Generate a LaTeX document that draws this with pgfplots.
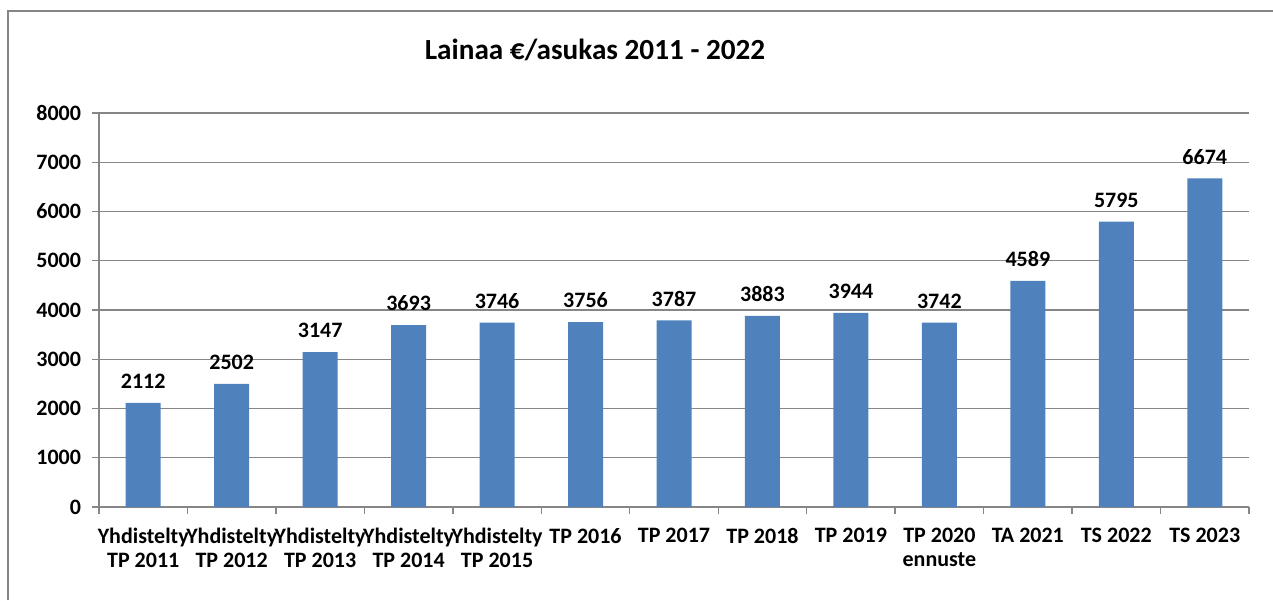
\documentclass[border=0pt]{standalone}
\usepackage{fontspec}
\setmainfont{Carlito}
\usepackage{pgfplots}
\pgfplotsset{compat=1.18}
\definecolor{barblue}{RGB}{79,129,189}
\definecolor{gridgray}{RGB}{134,134,134}

\begin{document}
\begin{tikzpicture}
% picture = 1273 x 600 px, 1 px = 0.75 pt
\useasboundingbox (-74.25pt,-69.75pt) rectangle (880.5pt,380.25pt);
\draw[gridgray, line width=1pt] (-68.25pt,-69.75pt) -- (-68.25pt,372pt) -- (880.5pt,372pt);
\node[font=\bfseries\fontsize{21.9}{25}\selectfont] at (372pt,342.75pt) {Lainaa €/asukas 2011 - 2022};
\begin{axis}[
    at={(0,0)}, anchor=south west,
    scale only axis,
    width=862.5pt, height=295.5pt,
    ybar, bar shift=0pt, bar width=26.25pt,
    xmin=-0.5, xmax=12.5,
    ymin=0, ymax=8000,
    ytick={0,1000,...,8000},
    minor ytick={0,1000,...,8000},
    xtick={0,...,12},
    minor xtick={-0.5,0.5,...,12.5},
    xticklabels={{Yhdistelty\\TP 2011},{Yhdistelty\\TP 2012},{Yhdistelty\\TP 2013},{Yhdistelty\\TP 2014},{Yhdistelty\\TP 2015},TP 2016,TP 2017,TP 2018,TP 2019,{TP 2020\\ennuste},TA 2021,TS 2022,TS 2023},
    major tick length=0pt,
    minor tick length=5pt,
    tick align=outside,
    axis x line*=bottom,
    axis y line*=left,
    axis line style={gridgray, line width=1pt},
    every tick/.style={gridgray, line width=1pt},
    ymajorgrids,
    grid style={gridgray, line width=1pt},
    scaled y ticks=false,
    yticklabel style={font=\bfseries\fontsize{16.5}{18}\selectfont, xshift=-10pt},
    xticklabel style={font=\bfseries\fontsize{16.5}{18}\selectfont, align=center, inner xsep=0pt, yshift=-12.5pt},
    yticklabel={\pgfmathprintnumber[fixed,1000 sep={},assume math mode=true]{\tick}},
    nodes near coords={\pgfmathprintnumber[fixed,1000 sep={},assume math mode=true]{\pgfplotspointmeta}},
    nodes near coords style={font=\bfseries\fontsize{16.5}{18}\selectfont, yshift=7pt},
    clip=false,
]
\addplot[fill=barblue, draw=none] coordinates {
    (0,2112) (1,2502) (2,3147) (3,3693) (4,3746) (5,3756) (6,3787)
    (7,3883) (8,3944) (9,3742) (10,4589) (11,5795) (12,6674)
};
\end{axis}
\end{tikzpicture}
\end{document}
